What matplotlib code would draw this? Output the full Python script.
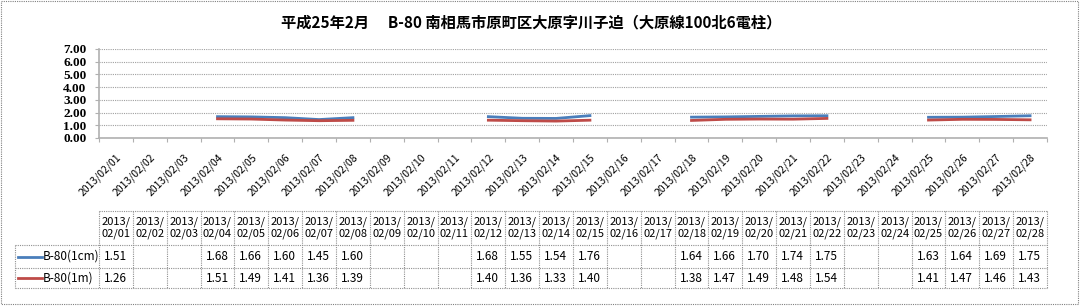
import numpy as np
import matplotlib
matplotlib.use("Agg")
import matplotlib.pyplot as plt
from matplotlib.patches import Rectangle

plt.rcParams['font.family'] = ['Noto Sans CJK JP', 'DejaVu Sans']

title = "平成25年2月　 B-80 南相馬市原町区大原字川子迫（大原線100北6電柱）"
dates = [f"2013/02/{d:02d}" for d in range(1, 29)]
series_names = ["B-80(1cm)", "B-80(1m)"]
nan = np.nan
cm1 = [1.51, nan, nan, 1.68, 1.66, 1.60, 1.45, 1.60, nan, nan, nan, 1.68, 1.55, 1.54,
       1.76, nan, nan, 1.64, 1.66, 1.70, 1.74, 1.75, nan, nan, 1.63, 1.64, 1.69, 1.75]
m1 = [1.26, nan, nan, 1.51, 1.49, 1.41, 1.36, 1.39, nan, nan, nan, 1.40, 1.36, 1.33,
      1.40, nan, nan, 1.38, 1.47, 1.49, 1.48, 1.54, nan, nan, 1.41, 1.47, 1.46, 1.43]
colors = ["#4a7ebb", "#be4b48"]
yticks = [0, 1, 2, 3, 4, 5, 6, 7]

W, H = 1080, 306
fig = plt.figure(figsize=(W / 100, H / 100), dpi=100)

# overlay axes in pixel coords for border, title, table
ov = fig.add_axes([0, 0, 1, 1])
ov.set_xlim(0, W)
ov.set_ylim(H, 0)
ov.axis('off')
ov.add_patch(Rectangle((1, 1), W - 3, H - 3, fill=False, ec="#808080", lw=0.8, ls=(0, (1, 1))))
ov.text(531, 22, title, ha='center', va='center', fontsize=11, fontweight='bold')

# main plot
L, R, T, B = 99, 1047, 49, 138
ax = fig.add_axes([L / W, 1 - B / H, (R - L) / W, (B - T) / H])
x = np.arange(len(dates))
for vals, c in zip([cm1, m1], colors):
    ax.plot(x, vals, color=c, lw=2, solid_joinstyle='round')
ax.set_xlim(-0.5, len(dates) - 0.5)
ax.set_ylim(0, 7)
ax.set_yticks(yticks)
ax.set_yticklabels([f"{v:.2f}" for v in yticks], family=['Liberation Serif'], fontsize=9.5, fontweight='bold')
ax.yaxis.grid(True, color="#a0a0a0", lw=0.8, ls=(0, (1, 1)))
ax.set_axisbelow(True)
ax.set_xticks(np.arange(-0.5, len(dates) + 0.5, 1))
ax.set_xticklabels([])
ax.tick_params(axis='x', length=3, color="#b0b0b0", direction='out')
ax.tick_params(axis='y', length=3, color="#b0b0b0", pad=6)
for s in ['top', 'right']:
    ax.spines[s].set_visible(False)
ax.spines['left'].set_color("#b0b0b0")
ax.spines['bottom'].set_color("#b0b0b0")
ax.spines['bottom'].set_linewidth(1.2)
ax.spines['left'].set_linewidth(1.2)
# rotated date labels
for i, d in enumerate(dates):
    ax.annotate(d, xy=(i, 0), xycoords='data', xytext=(0, -10), textcoords='offset points',
                rotation=45, ha='right', va='top', rotation_mode='anchor', fontsize=7.5,
                family=['Noto Sans CJK JP'], annotation_clip=False)

# data table
cw = (R - L) / len(dates)
hy0, hy1, r1, r2 = 211, 245, 268, 288
gc = "#909090"
dls = (0, (1, 1))
ov.plot([L, R], [hy0, hy0], color=gc, lw=0.8, ls=dls)
for yy in [hy1, r1, r2]:
    ov.plot([15, R], [yy, yy], color=gc, lw=0.8, ls=dls)
ov.plot([15, 15], [hy1, r2], color=gc, lw=0.8, ls=dls)
for i in range(len(dates) + 1):
    ov.plot([L + i * cw] * 2, [hy0, r2], color=gc, lw=0.8, ls=dls)
for i, d in enumerate(dates):
    cx = L + (i + 0.5) * cw
    ov.text(cx, (hy0 + hy1) / 2, d[:5] + "\n" + d[5:], ha='center', va='center',
            fontsize=8, linespacing=1.15)
rows_y = [(hy1 + r1) / 2, (r1 + r2) / 2]
for vals, c, name, yy in zip([cm1, m1], colors, series_names, rows_y):
    ov.plot([18, 42], [yy, yy], color=c, lw=2)
    ov.text(43, yy, name, ha='left', va='center', fontsize=8.5)
    for i, v in enumerate(vals):
        if not np.isnan(v):
            ov.text(L + i * cw + 5, yy, f"{v:.2f}", ha='left', va='center', fontsize=8.5)

fig.savefig("out.png", dpi=100)
